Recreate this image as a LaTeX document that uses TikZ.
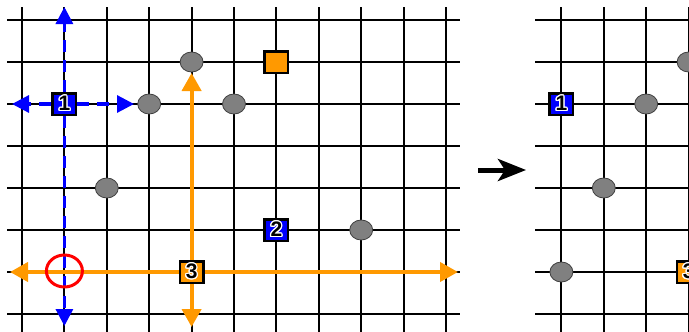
\documentclass[tikz,border=0pt]{standalone}
\usepackage{fontspec}
\setmainfont{Liberation Sans}
\usepackage{contour}
\contourlength{1.2pt}
\usetikzlibrary{arrows.meta,shapes.geometric}
\pgfdeclarelayer{gridl}
\pgfdeclarelayer{arrowl}
\pgfsetlayers{gridl,arrowl,main}
\definecolor{orng}{HTML}{FF9900}
\definecolor{blu}{HTML}{0000FF}
\definecolor{pc}{HTML}{808080}
\begin{document}
\begin{tikzpicture}[x=1pt,y=-1pt,
  gridline/.style={line width=2pt,black},
  numbox/.style={draw=black,line width=2.5pt,minimum width=23.5pt,minimum height=21.5pt,inner sep=0pt,
    font=\fontsize{21}{21}\selectfont\bfseries},
  piece/.style={ellipse,draw=black!75,line width=0.8pt,fill=pc,minimum width=23pt,minimum height=20pt,inner sep=0pt},
  bluearrow/.style={draw=blu,line width=3.2pt,dash pattern=on 12pt off 8pt,-{Triangle[length=17pt,width=17pt]}},
  orangearrow/.style={draw=orng,line width=4pt,-{Triangle[length=18pt,width=19pt]}},
  target/.style={ellipse,draw=red,line width=3pt,minimum width=36pt,minimum height=32pt,inner sep=0pt}
]
\useasboundingbox (0,0) rectangle (689,332);
% grids
\begin{pgfonlayer}{gridl}
\foreach \i in {0,...,10} \draw[gridline] ({22+42.4*\i},7) -- ({22+42.4*\i},334);
\foreach \j in {0,...,7} \draw[gridline] (7,{20+42*\j}) -- (460,{20+42*\j});
\foreach \i in {1,...,4} \draw[gridline] ({519+42.4*\i},7) -- ({519+42.4*\i},334);
\foreach \j in {0,...,7} \draw[gridline] (535,{20+42*\j}) -- (692,{20+42*\j});
\end{pgfonlayer}
% left board
\node[numbox,fill=blu] (n1) at (64.4,104) {\contour{white}{1}};
\node[numbox,fill=blu] (n2) at (276.4,230) {\contour{white}{2}};
\node[numbox,fill=orng] (n3) at (191.6,272) {\contour{white}{3}};
\node[numbox,fill=orng] (goal) at (276.4,62) {};
\node[piece] (p1) at (149.2,104) {};
\node[piece] (p2) at (191.6,62) {};
\node[piece] (p3) at (234,104) {};
\node[piece] (p4) at (106.8,188) {};
\node[piece] (p5) at (361.2,230) {};
\node[target] (rc) at (64.4,271) {};
% arrow end points
\coordinate (bu) at (64.4,7);
\coordinate (bd) at (64.4,326);
\coordinate (bl) at (12,104);
\coordinate (br) at (134,104);
\coordinate (ou) at (191.6,73);
\coordinate (od) at (191.6,327);
\coordinate (ol) at (10,272);
\coordinate (or) at (458,272);
\begin{pgfonlayer}{arrowl}
\draw[orangearrow] (n3) -- (ou);
\draw[orangearrow] (n3) -- (od);
\draw[orangearrow] (n3) -- (ol);
\draw[orangearrow] (n3) -- (or);
\draw[bluearrow] (n1) -- (bu);
\draw[bluearrow] (n1) -- (bd);
\draw[bluearrow] (n1) -- (bl);
\draw[bluearrow] (n1) -- (br);
\end{pgfonlayer}
% transition arrow
\coordinate (ta) at (478,170);
\coordinate (tb) at (526,170);
\draw[black,line width=5pt,-{Stealth[length=28pt,width=22pt,inset=7pt]}] (ta) -- (tb);
% right board
\node[numbox,fill=blu] (m1) at (561.4,104) {\contour{white}{1}};
\node[numbox,fill=orng] (m3) at (688.6,272) {\contour{white}{3}};
\node[piece] (q1) at (646.2,104) {};
\node[piece] (q2) at (688.6,62) {};
\node[piece] (q3) at (603.8,188) {};
\node[piece] (q4) at (561.4,272) {};
\end{tikzpicture}
\end{document}
